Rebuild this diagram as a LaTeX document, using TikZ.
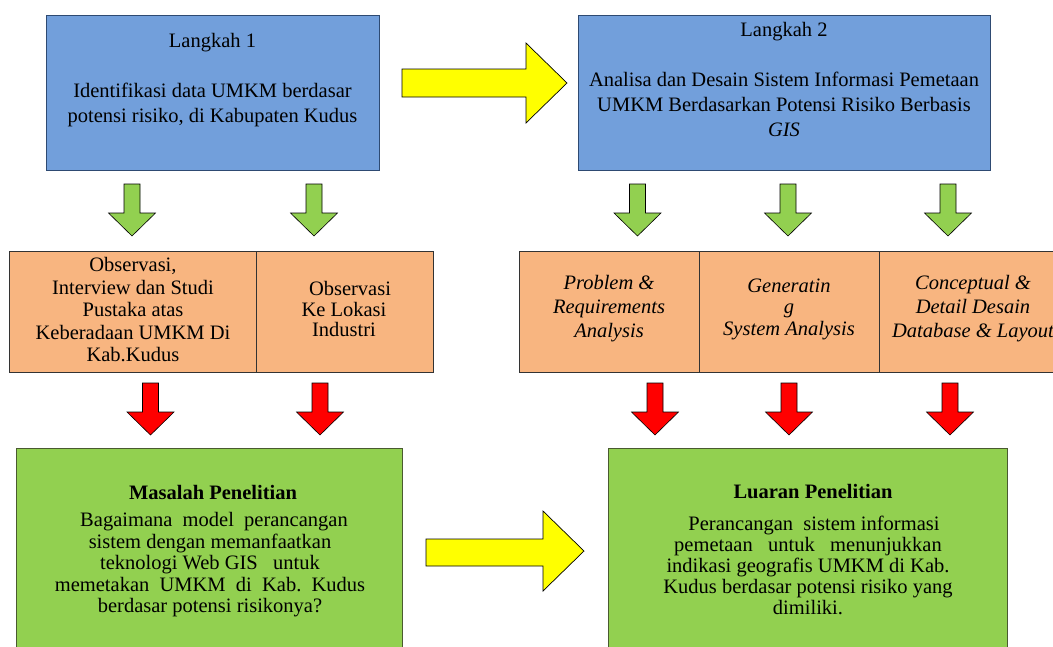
\documentclass[tikz,border=0pt]{standalone}
\usepackage{fontspec}
\setmainfont{Liberation Serif}
\definecolor{boxblue}{HTML}{729FDB}
\definecolor{blueline}{HTML}{2E4A72}
\definecolor{boxorange}{HTML}{F8B580}
\definecolor{orangeline}{HTML}{333333}
\definecolor{boxgreen}{HTML}{92D050}
\definecolor{greenline}{HTML}{4A5A30}
\definecolor{arrgreen}{HTML}{92D050}
\definecolor{arrred}{HTML}{FF0000}
\definecolor{arryellow}{HTML}{FFFF00}
\tikzset{
  box/.style={draw, line width=1pt, inner sep=0pt, anchor=north west},
  bluebox/.style={box, fill=boxblue, draw=blueline},
  orangebox/.style={box, fill=boxorange, draw=orangeline},
  greenbox/.style={box, fill=boxgreen, draw=greenline},
  txt/.style={align=center, inner sep=0pt, font=\fontsize{20.5}{25}\selectfont},
  downarrow/.pic={\path[pic actions] (-8,0) -- (8,0) -- (8,29) -- (23.5,29) -- (0,52) -- (-23.5,29) -- (-8,29) -- cycle;},
  greenarrow/.style={fill=arrgreen, draw=black, line width=0.6pt},
  redarrow/.style={fill=arrred, draw=black, line width=0.6pt},
  yellowarrow/.style={fill=arryellow, draw=black, line width=0.7pt}
}
\begin{document}
\begin{tikzpicture}[x=1pt,y=-1pt]
\useasboundingbox (0,0) rectangle (1053,646);
\clip (0,0) rectangle (1053,646);
\fill[white] (0,0) rectangle (1053,646);

% top boxes
\node[bluebox, minimum width=333, minimum height=155] (step1) at (46,15) {};
\node[txt] (step1t) at (212.5,80.5) {Langkah 1\\[25pt]Identifikasi data UMKM berdasar\\potensi risiko, di Kabupaten Kudus};
\node[bluebox, minimum width=412, minimum height=155] (step2) at (578,15) {};
\node[txt] (step2t) at (784,79.5) {Langkah 2\\[25pt]Analisa dan Desain Sistem Informasi Pemetaan\\UMKM Berdasarkan Potensi Risiko Berbasis\\\textit{GIS}};

% yellow arrow top
\draw[yellowarrow] (402,69) -- (526,69) -- (526,43) -- (567,83) -- (526,123) -- (526,97) -- (402,97) -- cycle;

% green arrows
\pic[greenarrow] (g1) at (132,184) {downarrow};
\pic[greenarrow] (g2) at (314,184) {downarrow};
\pic[greenarrow] (g3) at (637.5,184) {downarrow};
\pic[greenarrow] (g4) at (788,184) {downarrow};
\pic[greenarrow] (g5) at (948,184) {downarrow};

% orange boxes left
\node[orangebox, minimum width=247, minimum height=121] (obs1) at (9,251) {};
\node[orangebox, minimum width=177, minimum height=121] (obs2) at (256,251) {};
\node[txt, font=\fontsize{20.5}{22.5}\selectfont] (obs1t) at (133,310) {Observasi,\\Interview dan Studi\\Pustaka atas\\Keberadaan UMKM Di\\Kab.Kudus};
\node[txt, font=\fontsize{20.5}{20.5}\selectfont] (obs2t) at (344,309) {\hspace*{12pt}Observasi\\Ke Lokasi\\Industri};

% orange boxes right
\node[orangebox, minimum width=180, minimum height=121] (prob) at (519,251) {};
\node[orangebox, minimum width=180, minimum height=121] (gen) at (699,251) {};
\node[orangebox, minimum width=191, minimum height=121] (conc) at (879,251) {};
\node[txt, font=\fontsize{20.5}{24}\itshape\selectfont] (probt) at (609,309) {Problem \&\\Requirements\\Analysis};
\node[txt, font=\fontsize{20.5}{21.5}\itshape\selectfont] (gent) at (789,309) {Generatin\\g\\System Analysis};
\node[txt, font=\fontsize{20.5}{24}\itshape\selectfont] (conct) at (973,309) {Conceptual \&\\Detail Desain\\Database \& Layout};

% red arrows
\pic[redarrow] (r1) at (150.5,383) {downarrow};
\pic[redarrow] (r2) at (320,383) {downarrow};
\pic[redarrow] (r3) at (655,383) {downarrow};
\pic[redarrow] (r4) at (789,383) {downarrow};
\pic[redarrow] (r5) at (950,383) {downarrow};

% bottom boxes
\node[greenbox, minimum width=386, minimum height=220] (masalah) at (16,448) {};
\node[txt, font=\fontsize{20.5}{25}\bfseries\selectfont] (masalaht) at (213,492) {Masalah Penelitian};
\node[txt, font=\fontsize{20.5}{21.5}\selectfont] (masalahb) at (210,565) {\hspace*{8pt}Bagaimana\ \ model\ \ perancangan\\sistem dengan memanfaatkan\\teknologi Web GIS\ \ \ untuk\\memetakan\ \ UMKM\ \ di\ \ Kab.\ \ Kudus\\berdasar potensi risikonya?};

\node[greenbox, minimum width=399, minimum height=220] (luaran) at (608,448) {};
\node[txt, font=\fontsize{20.5}{25}\bfseries\selectfont] (luarant) at (813,492) {Luaran Penelitian};
\node[txt, font=\fontsize{20.5}{21}\selectfont] (luaranb) at (808,565) {\hspace*{12pt}Perancangan\ \ sistem informasi\\pemetaan\ \ \ untuk\ \ \ menunjukkan\\indikasi geografis UMKM di Kab.\\Kudus berdasar potensi risiko yang\\dimiliki.};

% yellow arrow bottom
\draw[yellowarrow] (426,539) -- (543,539) -- (543,511) -- (584,551) -- (543,591) -- (543,566) -- (426,566) -- cycle;
\end{tikzpicture}
\end{document}
